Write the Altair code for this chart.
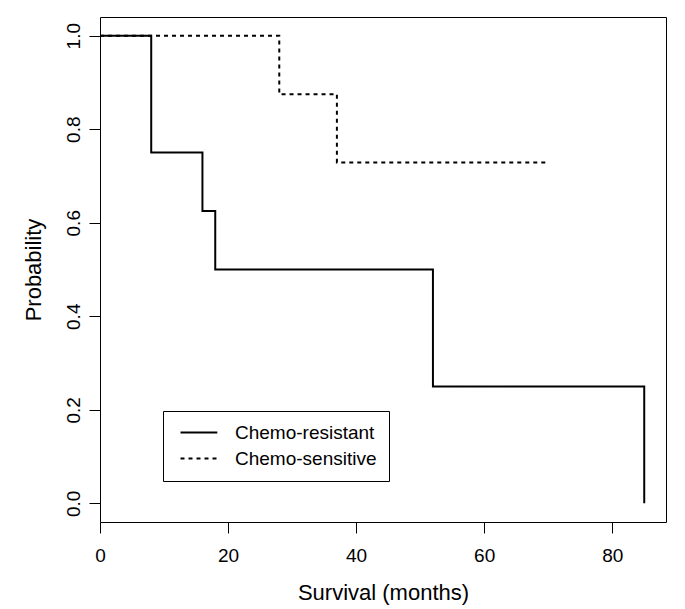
import altair as alt
import pandas as pd

# Kaplan-Meier step data
res_time = [0, 8, 16, 18, 52, 85]
res_surv = [1.0, 0.75, 0.625, 0.5, 0.25, 0.0]
sen_time = [0, 28, 37, 70]
sen_surv = [1.0, 0.875, 0.729, 0.729]
groups = ["Chemo-resistant", "Chemo-sensitive"]
x_ticks = [0, 20, 40, 60, 80]
y_ticks = [0.0, 0.2, 0.4, 0.6, 0.8, 1.0]

rows = []
for i, (t, s) in enumerate(zip(res_time, res_surv)):
    rows.append({"time": t, "surv": s, "group": groups[0], "order": i})
for i, (t, s) in enumerate(zip(sen_time, sen_surv)):
    rows.append({"time": t, "surv": s, "group": groups[1], "order": i})
df = pd.DataFrame(rows)

FONT = "Liberation Sans"

chart = alt.Chart(df).mark_line(
    interpolate="step-after", strokeWidth=2, color="black", strokeCap="butt"
).encode(
    x=alt.X(
        "time:Q",
        scale=alt.Scale(domain=[0, 88.4], nice=False, zero=False),
        axis=alt.Axis(
            values=x_ticks, title="Survival (months)", grid=False, domain=False,
            tickSize=11, tickColor="black", labelFontSize=19, labelFont=FONT,
            labelColor="black", labelPadding=13, titleFontSize=22, titleFont=FONT,
            titleFontWeight="normal", titleColor="black", titlePadding=17,
            labelFlush=False,
        ),
    ),
    y=alt.Y(
        "surv:Q",
        scale=alt.Scale(domain=[-0.04, 1.04], nice=False, zero=False),
        axis=alt.Axis(
            values=y_ticks, format=".1f", title="Probability", grid=False, domain=False,
            tickSize=11, tickColor="black", labelFontSize=19, labelFont=FONT,
            labelColor="black", labelAngle=270, labelAlign="center",
            labelBaseline="bottom", labelPadding=6, labelFlush=False,
            titleFontSize=22, titleFont=FONT, titleFontWeight="normal",
            titleColor="black", titlePadding=19,
        ),
    ),
    strokeDash=alt.StrokeDash(
        "group:N",
        scale=alt.Scale(domain=groups, range=[[1, 0], [4, 4]]),
        legend=alt.Legend(
            orient="none", legendX=63, legendY=394, title=None,
            strokeColor="black", padding=12, rowPadding=6,
            labelFontSize=19, labelFont=FONT, labelColor="black",
            symbolType="M-0.5,0H4.1", symbolSize=256, symbolStrokeWidth=2,
            symbolStrokeColor="black", labelOffset=41,
        ),
    ),
    order="order:Q",
).properties(
    width=566, height=505,
    padding={"left": 92, "top": 9, "right": 11, "bottom": 87},
    autosize=alt.AutoSizeParams(type="none"),
).configure_view(stroke="black", strokeWidth=1)

chart.save("out.html", embed_options={"renderer": "svg", "actions": False})
